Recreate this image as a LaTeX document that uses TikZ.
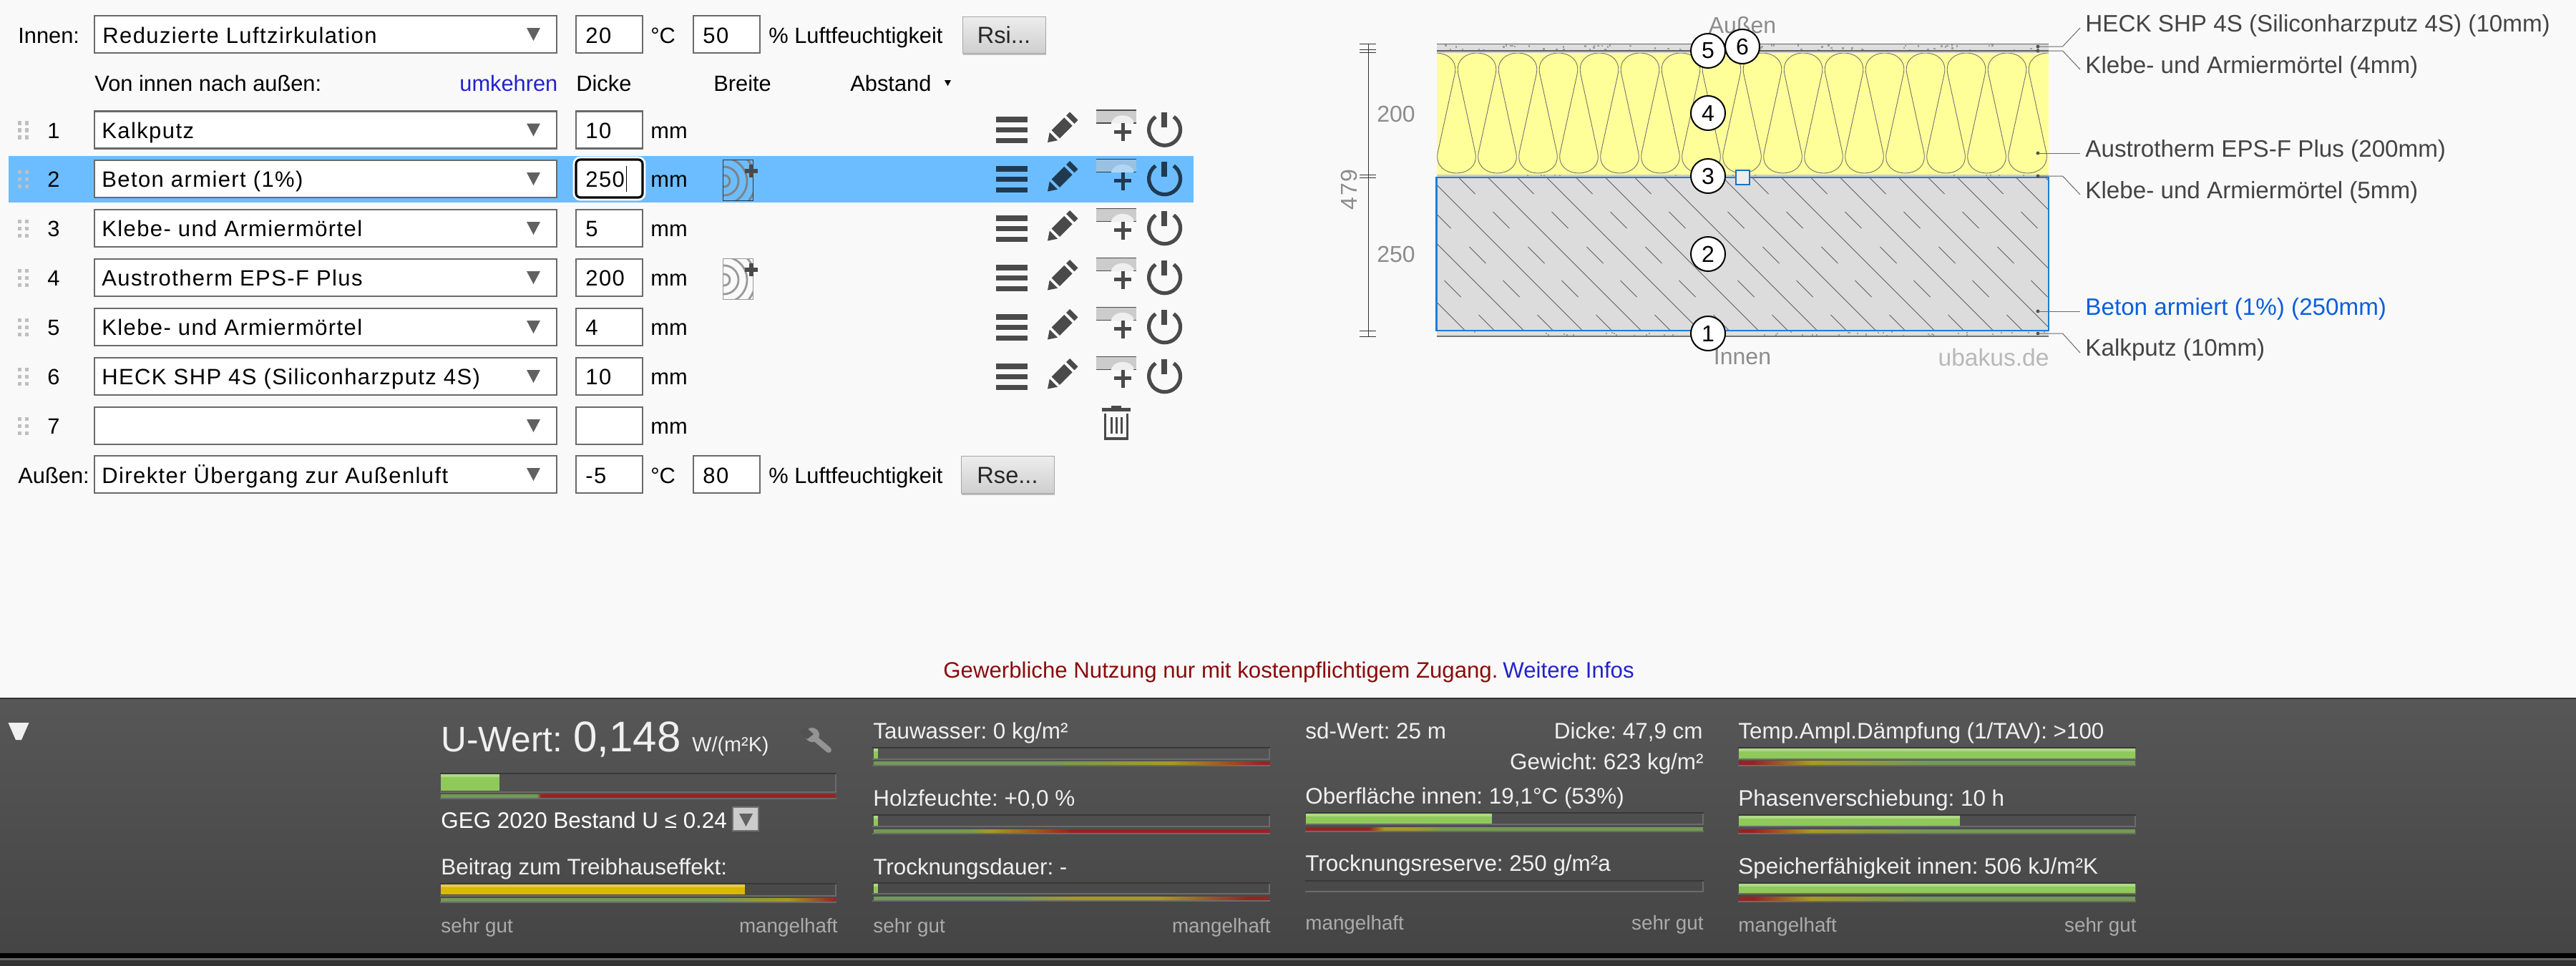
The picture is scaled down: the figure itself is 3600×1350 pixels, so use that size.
\documentclass[tikz,border=0pt]{standalone}
\usepackage{fontspec}
\setmainfont{Liberation Sans}
\newfontfamily\selfont[LetterSpace=4.5]{Liberation Sans}
\usetikzlibrary{shapes.geometric}
\AtBeginDocument{\frenchspacing}
\definecolor{pagebg}{HTML}{F9F9F9}
\definecolor{hilite}{HTML}{6CBDFF}
\definecolor{ink}{HTML}{4A4A4A}
\definecolor{inkhi}{HTML}{1F3A50}
\definecolor{boxline}{HTML}{6A6A6A}
\definecolor{linkblue}{HTML}{2222CC}
\definecolor{dimgray}{HTML}{8C8C8C}
\definecolor{lab}{HTML}{444444}
\definecolor{selblue}{HTML}{1A7FD8}
\definecolor{betonblue}{HTML}{0A5FDC}
\definecolor{eps}{HTML}{FFFF99}
\definecolor{beton}{HTML}{DCDCDC}
\definecolor{plaster}{HTML}{DEDEDE}
\definecolor{barG}{HTML}{8FC95A}
\definecolor{barGl}{HTML}{AED982}
\definecolor{barY}{HTML}{D9B800}
\definecolor{barYl}{HTML}{E5CB45}
\definecolor{sG}{HTML}{739A55}
\definecolor{sO}{HTML}{A79A20}
\definecolor{sR}{HTML}{992222}
\definecolor{paneltext}{HTML}{F0F0F0}
\definecolor{panelmute}{HTML}{ABABAB}
\definecolor{darkred}{HTML}{8B0A0A}
\tikzset{
 x=0.5pt,y=-0.5pt,
 lbl/.style={inner sep=0pt,anchor=base west,text=black,font=\fontsize{15.4pt}{18pt}\selectfont},
 rlbl/.style={lbl,anchor=base east},
 seltext/.style={lbl,font=\fontsize{15.5pt}{18pt}\selfont},
 btntext/.style={lbl,anchor=base,text=black!85,font=\fontsize{16.3pt}{18pt}\selectfont},
 noticetext/.style={lbl,font=\fontsize{15.6pt}{18pt}\selectfont},
 dimtext/.style={inner sep=0pt,text=dimgray,font=\fontsize{16pt}{18pt}\selectfont},
 laylbl/.style={inner sep=0pt,anchor=base west,text=lab,font=\fontsize{16.6pt}{18pt}\selectfont},
 ptext/.style={inner sep=0pt,anchor=base west,text=paneltext,font=\fontsize{15.7pt}{18pt}\selectfont},
 ptextr/.style={ptext,anchor=base east},
 pmute/.style={ptext,text=panelmute,font=\fontsize{13.9pt}{18pt}\selectfont},
 pmuter/.style={pmute,anchor=base east},
 numcirc/.style={circle,draw=black,line width=1pt,fill=white,inner sep=0pt,minimum size=24pt,font=\fontsize{16pt}{18pt}\selectfont},
 inbox/.style={draw=boxline,line width=1.1pt,fill=white},
 leader/.style={draw=boxline,line width=0.5pt},
 dimline/.style={draw=black!80,line width=0.5pt},
 waveline/.style={draw=black!55,line width=0.45pt},
 hatchline/.style={draw=black!62,line width=0.45pt},
}
% select box
\newcommand{\selbox}[2]{%
 \draw[inbox] (132,#1-26) rectangle (778,#1+26);
 \fill[black!62] (736,#1-9) -- (755,#1-9) -- (745.5,#1+9) -- cycle;
}
\newcommand{\inpbox}[3]{\draw[inbox] (#1,#2-26) rectangle (#1+93,#2+26);}
% row handle
\newcommand{\handle}[2]{%
 \foreach \hy in {-10,0,10} \foreach \hx in {25,35}
   \fill[#2] (\hx,#1+\hy-2.5) rectangle (\hx+5,#1+\hy+3);
}
% action icons on a row
\newcommand{\rowicons}[3]{%
 \fill[#2] (1392,#1-18.5) rectangle (1436,#1-10.5);
 \fill[#2] (1392,#1-3.5) rectangle (1436,#1+3.5);
 \fill[#2] (1392,#1+11.5) rectangle (1436,#1+18.5);
 \begin{scope}[shift={(1464,#1+17.5)},rotate=45]
  \fill[#2] (0,0) -- (12,-8) -- (12,8) -- cycle;
  \fill[#2] (16,-8) rectangle (41,8);
  \fill[#2] (45,-8) rectangle (52,8);
 \end{scope}
 \fill[#3] (1532,#1-27.5) rectangle (1588,#1-9.5);
 \fill[pagebg!70!#3] (1553,#1-9) .. controls (1555,#1-24) and (1583,#1-24) .. (1585,#1-9) -- cycle;
 \draw[#2,line width=0.6pt] (1532,#1-27.5) -- (1588,#1-27.5);
 \draw[#2,line width=0.6pt] (1532,#1-9.5) -- (1553,#1-9.5) (1584,#1-9.5) -- (1588,#1-9.5);
 \fill[#2] (1566.5,#1-9.5) rectangle (1571.5,#1+15.5);
 \fill[#2] (1557,#1-0) rectangle (1581,#1+5);
 \draw[#2,line width=2.6pt] (1640.2,#1-18.3) arc[start angle=55,end angle=-235,radius=11pt];
 \fill[#2] (1623,#1-24.5) rectangle (1631,#1-3.5);
}
% wood icon
\newcommand{\woodicon}[3]{%
 \begin{scope}
  \clip (1010,#1-27) rectangle (1052,#1+30);
  \foreach \rr in {4,10,16,22,28,34} \draw[#2,line width=1.4pt] (1012,#1+3) circle[radius=\rr pt];
 \end{scope}
 \draw[#3,line width=0.5pt] (1010,#1-27) rectangle (1052,#1+30);
 \fill[ink] (1047,#1-20) rectangle (1053,#1-2);
 \fill[ink] (1041,#1-14) rectangle (1059,#1-8);
}
% panel bar frame
\newcommand{\ubar}[4]{%
 \fill[black!78] (#1-1,#3-2) rectangle (#2+1,#3);
 \fill[black!58] (#1-1,#4) rectangle (#2+1,#4+2);
 \fill[black!58] (#2-1,#3) rectangle (#2+1,#4);
}
\newcommand{\ufill}[6]{% x0 x1 y0 y1 col coltop
 \fill[#5] (#1,#3) rectangle (#2,#4);
 \fill[#6] (#1,#3) rectangle (#2,#3+4);
}
\newcommand{\seg}[6]{\shade[left color=#5,right color=#6] (#1,#3) rectangle (#2,#4);}
\newcommand{\stripend}[4]{\fill[black!58] (#1-1,#3) rectangle (#2+1,#3+2);}
\begin{document}
\begin{tikzpicture}
\useasboundingbox (0,0) rectangle (3600,1350);
\fill[pagebg] (0,0) rectangle (3600,1350);

%--- top row
\node[lbl] (innenl) at (25,60) {Innen:};
\selbox{48}{}
\node[seltext] (innens) at (143,60) {Reduzierte Luftzirkulation};
\inpbox{805}{48}{}
\node[seltext] (innent) at (818,60) {20};
\node[lbl] (innenc) at (909,60) {°C};
\inpbox{969}{48}{}
\node[seltext] (innenh) at (982,60) {50};
\node[lbl] (innenlf) at (1074,60) {\% Luftfeuchtigkeit};
\fill[black!25] (1346,26) rectangle (1462,77);
\shade[top color=black!7,bottom color=black!19,draw=black!35,line width=0.5pt] (1345,23) rectangle (1461,74);
\node[btntext] (rsi) at (1403,60) {Rsi...};

%--- header row
\node[lbl] (vonl) at (132,127) {Von innen nach außen:};
\node[lbl,text=linkblue] (umk) at (642,127) {umkehren};
\node[lbl] (dicke) at (805,127) {Dicke};
\node[lbl] (breite) at (997,127) {Breite};
\node[lbl] (abstand) at (1188,127) {Abstand};
\fill[black] (1320,112) -- (1329,112) -- (1324.5,120) -- cycle;

%--- highlight
\fill[hilite] (12,218) rectangle (1668,283);

%--- rows
\foreach \n/\y/\nam/\dv in {1/181.5/Kalkputz/10,2/250/{Beton armiert (1\%)}/{},3/319/Klebe- und Armiermörtel/5,4/388/Austrotherm EPS-F Plus/200,5/457/Klebe- und Armiermörtel/4,6/526/{HECK SHP 4S (Siliconharzputz 4S)}/10,7/595/{}/{}}{
 \handle{\y}{black!25}
 \node[lbl,anchor=base] (num\n) at (75,\y+11.5) {\n};
 \selbox{\y}{}
 \node[seltext] (mat\n) at (142,\y+11.5) {\nam};
 \inpbox{805}{\y}{}
 \node[seltext] (dv\n) at (818,\y+11.5) {\dv};
 \node[lbl] (mm\n) at (909,\y+11.5) {mm};
}
%--- focused input
\draw[white,line width=2.4pt,rounded corners=4pt] (803,221) rectangle (900,278);
\draw[black,line width=1.6pt,fill=white,rounded corners=3pt] (805,223) rectangle (898,276);
\node[seltext] (dvfocus) at (818,261.5) {250};
\draw[black,line width=0.5pt] (875,232) -- (875,268);

\foreach \y in {181.5,319,388,457,526}{\rowicons{\y}{ink}{black!20}}
\rowicons{250}{inkhi}{black!20!hilite!60!white}
\woodicon{250}{black!50}{inkhi}
\woodicon{388}{black!40}{black!40}

% trash
\fill[ink] (1540,570) rectangle (1580,575);
\fill[ink] (1553,567) rectangle (1567,570);
\draw[ink,line width=1.6pt] (1544.5,578) -- (1544.5,613) -- (1575.5,613) -- (1575.5,578);
\foreach \tx in {1553,1560,1567} \draw[ink,line width=1.5pt] (\tx,583) -- (\tx,606);

%--- bottom row
\node[lbl] (ausl) at (25,675) {Außen:};
\selbox{663}{}
\node[seltext] (auss) at (142,675) {Direkter Übergang zur Außenluft};
\inpbox{805}{663}{}
\node[seltext] (aust) at (818,675) {-5};
\node[lbl] (ausc) at (909,675) {°C};
\inpbox{969}{663}{}
\node[seltext] (aush) at (982,675) {80};
\node[lbl] (auslf) at (1074,675) {\% Luftfeuchtigkeit};
\fill[black!25] (1344,640) rectangle (1474,692);
\shade[top color=black!7,bottom color=black!19,draw=black!35,line width=0.5pt] (1343,637) rectangle (1473,689);
\node[btntext] (rse) at (1408,675) {Rse...};

%--- notice
\node[noticetext,text=darkred] (notice) at (1318,947) {Gewerbliche Nutzung nur mit kostenpflichtigem Zugang.};
\node[noticetext,text=linkblue] (infos) at (2100,947) {Weitere Infos};

%--- section drawing
\node[dimtext] (aussen) at (2435,35) {Außen};
\node[dimtext] (innen) at (2435,499) {Innen};
\node[dimtext,anchor=east,text=black!28,font=\fontsize{16.8pt}{18pt}\selectfont] (uba) at (2864,499) {ubakus.de};

% plaster layers
\fill[plaster] (2007.5,61) rectangle (2863,70);
\fill[black!20] (2007.5,72) rectangle (2863,74);
\fill[plaster] (2007.5,462) rectangle (2863,470);
\fill[black!20] (2007.5,244) rectangle (2863,248);
\pgfmathsetseed{17}
\foreach \i in {1,...,70}{
 \pgfmathsetmacro{\sx}{2012+rnd*845}\pgfmathsetmacro{\sy}{62+rnd*7}
 \fill[black!38] (\sx,\sy) rectangle (\sx+2.5,\sy+2.5);
}
\foreach \i in {1,...,50}{
 \pgfmathsetmacro{\sx}{2012+rnd*845}\pgfmathsetmacro{\sy}{463+rnd*5}
 \fill[black!38] (\sx,\sy) rectangle (\sx+2,\sy+2);
}
\foreach \i in {1,...,14}{
 \pgfmathsetmacro{\sx}{2012+rnd*845}
 \fill[black!38] (\sx,244) rectangle (\sx+2,246);
}
\draw[black!62,line width=0.9pt] (2007.5,61.5) -- (2863,61.5);
\draw[black!62,line width=0.9pt] (2007.5,71) -- (2863,71);
\draw[black!55,line width=0.7pt] (2007.5,470) -- (2863,470);

% insulation
\fill[eps] (2007.5,74) rectangle (2863,244);
\begin{scope}
 \clip (2007.5,74) rectangle (2863,244);
 \foreach \k in {0,...,15}{
  \pgfmathsetmacro{\ct}{2007+57*\k}
  \pgfmathsetmacro{\cb}{\ct+28.5}
  \pgfmathsetmacro{\nt}{\ct+57}
  \draw[waveline] ({\ct-26},104) .. controls ({\ct-35},64) and ({\ct+35},64) .. ({\ct+26},104)
     -- ({\cb-26},212) .. controls ({\cb-35},252) and ({\cb+35},252) .. ({\cb+26},212)
     -- ({\nt-26},104);
 }
\end{scope}

% concrete
\fill[beton] (2007.5,248) rectangle (2863,462);
\begin{scope}
 \clip (2007.5,248) rectangle (2863,462);
 \foreach \k in {-3,...,13}{
  \pgfmathsetmacro{\cc}{1667.5+82*\k}
  \draw[hatchline] ({\cc+248},248) -- ({\cc+462},462);
  \foreach \ry in {248,296,345,392,440}{
   \pgfmathsetmacro{\rx}{\cc+41+\ry}
   \draw[hatchline] (\rx,\ry) -- (\rx+23,\ry+23);
  }
 }
\end{scope}
\draw[selblue,line width=1.2pt] (2007.5,248) rectangle (2863,462);

% dimensions
\draw[dimline] (1912,61) -- (1912,470);
\foreach \ty in {61,69,73,244,248,462,470} \draw[dimline] (1900,\ty) -- (1923,\ty);
\node[dimtext] (d200) at (1951,159) {200};
\node[dimtext] (d250) at (1951,355) {250};
\node[dimtext,rotate=90] (d479) at (1885,265) {4\kern1pt 7\kern1pt 9};

% handle square
\draw[black!10!selblue,line width=0.7pt,fill=black!7] (2426,238) rectangle (2445,258);

% circles
\node[numcirc] (c1) at (2387,466) {1};
\node[numcirc] (c2) at (2387,355) {2};
\node[numcirc] (c3) at (2387,246) {3};
\node[numcirc] (c4) at (2387,158) {4};
\node[numcirc] (c5) at (2387,71) {5};
\node[numcirc] (c6) at (2435,65) {6};

% layer labels and leaders
\node[laylbl] (l6) at (2914,44) {HECK SHP 4S (Siliconharzputz 4S) (10mm)};
\node[laylbl] (l5) at (2914,102) {Klebe- und Armiermörtel (4mm)};
\node[laylbl] (l4) at (2914,219) {Austrotherm EPS-F Plus (200mm)};
\node[laylbl] (l3) at (2914,277) {Klebe- und Armiermörtel (5mm)};
\node[laylbl,text=betonblue] (l2) at (2914,440) {Beton armiert (1\%) (250mm)};
\node[laylbl] (l1) at (2914,497) {Kalkputz (10mm)};
\foreach \nm/\dy/\ey in {a/65/39,b/71/97,d/246/272,f/466/493}{
 \coordinate (dot\nm) at (2848,\dy);
 \coordinate (elb\nm) at (2882.5,\dy);
 \coordinate (end\nm) at (2907,\ey);
 \fill[black!70] (dot\nm) circle[radius=1.2pt];
 \draw[leader] (dot\nm) -- (elb\nm) -- (end\nm);
}
\foreach \nm/\dy in {c/214,e/435}{
 \coordinate (dot\nm) at (2848,\dy);
 \coordinate (end\nm) at (2907,\dy);
 \fill[black!70] (dot\nm) circle[radius=1.2pt];
 \draw[leader] (dot\nm) -- (end\nm);
}

%--- panel
\fill[black!80] (0,975) rectangle (3600,977);
\shade[top color=black!66,bottom color=black!73] (0,977) rectangle (3600,1332);
\fill[black] (0,1332) rectangle (3600,1339);
\fill[black!60] (0,1339) rectangle (3600,1342);
\fill[black!80] (0,1342) rectangle (3600,1350);
\fill[black!6] (11.5,1010) -- (40.5,1010) -- (30,1034) -- (22,1034) -- cycle;

% column 1
\node[ptext,font=\fontsize{24.8pt}{28pt}\selectfont] (uw) at (616,1050) {U-Wert:};
\node[ptext,font=\fontsize{30pt}{32pt}\selectfont] (uv) at (801,1050) {0,148};
\node[ptext,font=\fontsize{14.4pt}{18pt}\selectfont] (uu) at (967,1050) {W/(m²K)};
% wrench
\draw[black!42,line width=4pt,line cap=round] (1139,1032) -- (1158,1048);
\fill[black!42] (1135,1027) circle[radius=5pt];
\fill[black!68] (1126,1016) -- (1137,1026) -- (1128,1033) -- (1118,1022) -- cycle;

\ubar{616}{1168}{1082}{1106}
\ufill{616}{698}{1082}{1105}{barG}{barGl}
\seg{616}{750}{1110}{1115}{sG}{sG}
\seg{750}{756}{1110}{1115}{sG}{sR}
\seg{756}{1168}{1110}{1115}{sR}{sR}
\stripend{616}{1168}{1115}{}
\node[ptext,text=white] (geg) at (616,1157) {GEG 2020 Bestand U ≤ 0.24};
\draw[black!55,line width=0.8pt,fill=black!20] (1024,1128) rectangle (1060,1161);
\fill[black!62] (1033,1137) -- (1052,1137) -- (1042.5,1155) -- cycle;
\node[ptext] (beit) at (616,1222) {Beitrag zum Treibhauseffekt:};
\ubar{616}{1168}{1236}{1251}
\ufill{616}{1041}{1236}{1250}{barY}{barYl}
\seg{616}{1000}{1255}{1260}{sG}{sG}
\seg{1000}{1100}{1255}{1260}{sG}{sO}
\seg{1100}{1168}{1255}{1260}{sO}{sR}
\stripend{616}{1168}{1260}{}
\node[pmute] (sg1) at (616,1303) {sehr gut};
\node[pmuter] (mh1) at (1171,1303) {mangelhaft};

% column 2
\node[ptext] (tau) at (1220,1032) {Tauwasser: 0 kg/m²};
\ubar{1220}{1774}{1046}{1060}
\ufill{1221}{1227}{1046}{1060}{barG}{barGl}
\seg{1221}{1468}{1064}{1069}{sG}{sG}
\seg{1468}{1636}{1064}{1069}{sG}{sO}
\seg{1636}{1766}{1064}{1069}{sO}{sR}
\seg{1766}{1774}{1064}{1069}{sR}{sR}
\stripend{1220}{1774}{1069}{}
\node[ptext] (holz) at (1220,1126) {Holzfeuchte: +0,0 \%};
\ubar{1220}{1774}{1140}{1154}
\ufill{1221}{1227}{1140}{1154}{barG}{barGl}
\seg{1221}{1353}{1159}{1164}{sG}{sG}
\seg{1353}{1384}{1159}{1164}{sG}{sO}
\seg{1384}{1498}{1159}{1164}{sO}{sR}
\seg{1498}{1774}{1159}{1164}{sR}{sR}
\stripend{1220}{1774}{1164}{}
\node[ptext] (trock) at (1220,1222) {Trocknungsdauer: -};
\ubar{1220}{1774}{1235}{1248}
\ufill{1221}{1227}{1235}{1248}{barG}{barGl}
\seg{1221}{1414}{1253}{1258}{sG}{sG}
\seg{1414}{1506}{1253}{1258}{sG}{sO}
\seg{1506}{1621}{1253}{1258}{sO}{sO}
\seg{1621}{1743}{1253}{1258}{sO}{sR}
\seg{1743}{1774}{1253}{1258}{sR}{sR}
\stripend{1220}{1774}{1258}{}
\node[pmute] (sg2) at (1220,1303) {sehr gut};
\node[pmuter] (mh2) at (1776,1303) {mangelhaft};

% column 3
\node[ptext] (sd) at (1824,1032) {sd-Wert: 25 m};
\node[ptextr] (dick) at (2380,1032) {Dicke: 47,9 cm};
\node[ptextr] (gew) at (2381,1075) {Gewicht: 623 kg/m²};
\node[ptext] (ober) at (1824,1123) {Oberfläche innen: 19,1°C (53\%)};
\ubar{1825}{2380}{1137}{1151}
\ufill{1825}{2085}{1137}{1151}{barG}{barGl}
\seg{1825}{1913}{1156}{1161}{sR}{sR}
\seg{1913}{1935}{1156}{1161}{sR}{sO}
\seg{1935}{1973}{1156}{1161}{sO}{sO}
\seg{1973}{2021}{1156}{1161}{sO}{sG}
\seg{2021}{2380}{1156}{1161}{sG}{sG}
\stripend{1825}{2380}{1161}{}
\node[ptext] (reserve) at (1824,1217) {Trocknungsreserve: 250 g/m²a};
\ubar{1825}{2380}{1232}{1245}
\node[pmute] (mh3) at (1824,1299) {mangelhaft};
\node[pmuter] (sg3) at (2381,1299) {sehr gut};

% column 4
\node[ptext] (temp) at (2429,1032) {Temp.Ampl.Dämpfung (1/TAV): >100};
\ubar{2430}{2984}{1046}{1060}
\ufill{2430}{2984}{1046}{1060}{barG}{barGl}
\seg{2430}{2450}{1063}{1069}{sR}{sR}
\seg{2450}{2531}{1063}{1069}{sR}{sO}
\seg{2531}{2691}{1063}{1069}{sO}{sG}
\seg{2691}{2984}{1063}{1069}{sG}{sG}
\stripend{2430}{2984}{1069}{}
\node[ptext] (phase) at (2429,1126) {Phasenverschiebung: 10 h};
\ubar{2430}{2984}{1140}{1154}
\ufill{2430}{2739}{1140}{1154}{barG}{barGl}
\seg{2430}{2450}{1159}{1164}{sR}{sR}
\seg{2450}{2531}{1159}{1164}{sR}{sO}
\seg{2531}{2691}{1159}{1164}{sO}{sG}
\seg{2691}{2984}{1159}{1164}{sG}{sG}
\stripend{2430}{2984}{1164}{}
\node[ptext] (speicher) at (2429,1221) {Speicherfähigkeit innen: 506 kJ/m²K};
\ubar{2430}{2984}{1235}{1248}
\ufill{2430}{2984}{1235}{1248}{barG}{barGl}
\seg{2430}{2450}{1253}{1259}{sR}{sR}
\seg{2450}{2531}{1253}{1259}{sR}{sO}
\seg{2531}{2691}{1253}{1259}{sO}{sG}
\seg{2691}{2984}{1253}{1259}{sG}{sG}
\stripend{2430}{2984}{1259}{}
\node[pmute] (mh4) at (2429,1302) {mangelhaft};
\node[pmuter] (sg4) at (2986,1302) {sehr gut};
\end{tikzpicture}
\end{document}
